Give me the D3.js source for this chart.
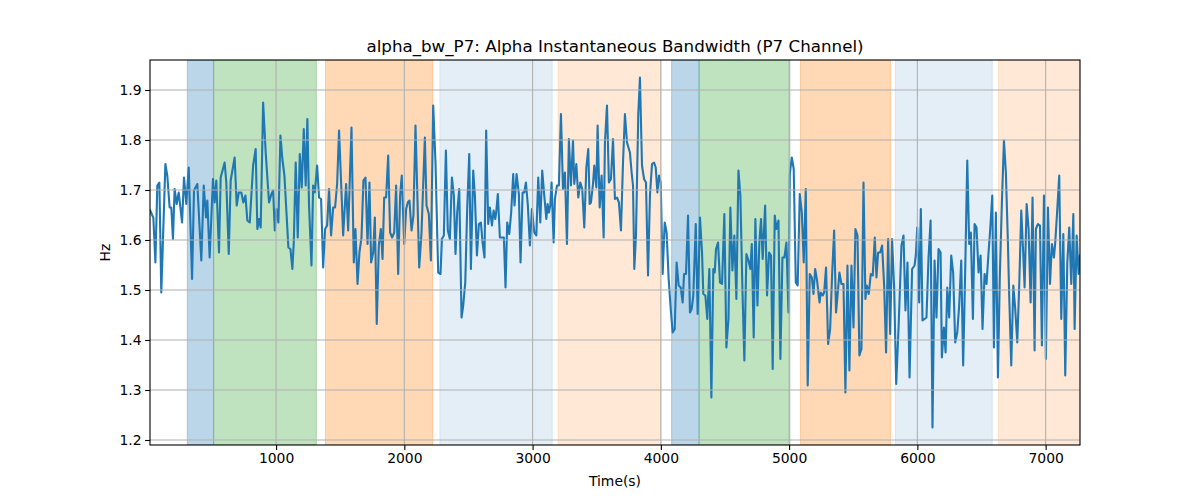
<!DOCTYPE html>
<html><head><meta charset="utf-8">
<script src="https://cdn.jsdelivr.net/npm/d3@7"></script>
<style>html,body{margin:0;padding:0;background:#fff;}svg{display:block;font-family:"DejaVu Sans",sans-serif;}</style>
</head><body>
<svg id="chart" width="1200" height="500"></svg>
<script>
const times = [
17,33,43,59,74,90,105,137,152,170,183,196,209,225,241,267,282,300,319,345,360,386,417,436,454,464,482,508,521,534,555,568,599,612,631,646,677,693,709,729,745,761,776,
795,821,841,854,867,880,899,919,945,964,977,990,1003,1018,1034,1049,1065,1081,1096,1112,1127,1138,1153,1169,1185,1200,1216,1231,1244,1257,1276,1289,1302,1320,1335,1351,1367,1382,1398,1413,1429,1445,1460,1476,1491,1512,1523,
1546,1562,1588,1606,1619,1635,1650,1666,1681,1697,1713,1728,1741,1757,1770,1785,1801,1817,1830,1843,1858,1874,1889,1905,1921,1936,1952,1967,1980,1999,2014,2027,2040,2056,2071,2087,2103,2116,2134,2160,2173,2191,2207,2225,2243,2264,
2282,2293,2308,2324,2339,2355,2371,2386,2399,2412,2428,2446,2459,2475,2490,2506,2519,2537,2550,2566,2581,2597,2610,2625,2638,2654,2667,2683,2696,2709,2716,2729,2745,2761,2776,2789,2802,2818,2833,2849,2859,2875,2893,2906,2922,2935,2948,2963,2979,2995,
3013,3029,3044,3060,3075,3091,3107,3117,3127,3138,3148,3164,3174,3190,3205,3221,3237,3252,3268,3283,3299,3315,3325,3341,3356,3372,3387,3403,3419,3434,3445,3455,3471,3481,3497,3507,3523,3538,3554,3564,3580,3595,3611,3627,3642,3658,3673,3689,3705,3720,3736,
3759,3772,3783,3793,3806,3824,3837,3853,3869,3884,3900,3915,3931,3947,3960,3973,3986,3999,4014,4030,4045,4061,4077,4092,4108,4123,4139,4155,4170,4181,4196,4212,4227,4240,4253,4272,4287,4305,4321,4331,4347,4362,4378,4394,4409,4420,4430,4446,4461,4477,
4495,4511,4527,4542,4558,4573,4589,4605,4620,4636,4651,4667,4683,4698,4709,4724,4737,4753,4768,4781,4794,4813,4828,4844,4859,4872,4888,4901,4917,4932,4948,4963,4979,4995,5005,5021,5036,5052,5067,5083,5099,5114,5130,5145,5161,5177,5190,5203,5218,
5237,5247,5262,5273,5288,5304,5320,5335,5351,5366,5382,5392,5408,5424,5439,5455,5470,5486,5502,5517,5533,5548,5564,5580,5595,5606,5621,5637,5652,5668,5681,5694,5710,5725,5741,5756,5772,5788,5803,5819,5835,5855,5876,5892,5907,5923,5939,5959,
5978,5988,5999,6014,6027,6040,6056,6071,6087,6103,6118,6134,6149,6165,6181,6191,6207,6220,6233,6248,6264,6279,6295,6311,6326,6342,6357,6373,6389,6404,6417,6433,6446,6461,6477,6493,6508,6524,6539,6555,6568,6584,6597,6612,6628,6643,6659,6675,6690,6706,
6716,6732,6748,6763,6779,6794,6810,6826,6836,6852,6867,6883,6898,6914,6924,6940,6956,6971,6987,7002,7018,7034,7049,7065,7075,7091,7106,7122,7138,7153,7169,7184,7200,7216,7226,7242,7257,7268
];
const values = [
1.66,1.65,1.645,1.555,1.709,1.715,1.495,1.752,1.728,1.665,1.665,1.602,1.702,1.672,1.695,1.635,1.725,1.672,1.745,1.522,1.699,1.712,1.559,1.709,1.645,1.679,1.565,1.722,1.675,1.719,1.575,1.725,1.755,1.715,1.572,1.719,1.765,1.669,1.695,1.695,1.675,1.689,1.639,
1.635,1.749,1.782,1.622,1.642,1.625,1.875,1.775,1.675,1.692,1.699,1.619,1.662,1.635,1.809,1.762,1.729,1.655,1.585,1.582,1.542,1.595,1.755,1.605,1.772,1.705,1.822,1.709,1.842,1.669,1.549,1.709,1.695,1.749,1.685,1.682,1.545,1.622,1.629,1.702,1.609,1.665,1.665,1.712,1.819,1.682,1.609,
1.712,1.619,1.825,1.555,1.622,1.512,1.575,1.605,1.719,1.725,1.592,1.715,1.555,1.575,1.645,1.432,1.589,1.622,1.562,1.685,1.685,1.769,1.615,1.605,1.615,1.709,1.532,1.689,1.729,1.592,1.662,1.675,1.679,1.619,1.649,1.829,1.675,1.545,1.615,1.805,1.669,1.652,1.559,1.869,1.755,1.535,
1.532,1.602,1.609,1.779,1.619,1.602,1.725,1.689,1.572,1.655,1.702,1.445,1.469,1.515,1.662,1.772,1.542,1.739,1.689,1.569,1.632,1.635,1.595,1.565,1.819,1.632,1.665,1.629,1.659,1.642,1.655,1.692,1.605,1.605,1.605,1.505,1.635,1.612,1.655,1.732,1.669,1.732,1.692,1.555,1.695,1.695,1.715,1.669,1.589,1.662,
1.615,1.609,1.725,1.635,1.739,1.689,1.642,1.672,1.655,1.669,1.715,1.595,1.682,1.709,1.709,1.852,1.702,1.735,1.592,1.802,1.709,1.799,1.712,1.752,1.685,1.715,1.702,1.625,1.745,1.782,1.672,1.675,1.712,1.749,1.705,1.829,1.665,1.729,1.605,1.795,1.869,1.715,1.722,1.802,1.682,1.685,1.675,1.619,1.755,1.852,1.795,
1.775,1.735,1.709,1.542,1.609,1.852,1.925,1.749,1.722,1.715,1.529,1.689,1.752,1.755,1.745,1.695,1.729,1.715,1.532,1.635,1.615,1.522,1.462,1.415,1.422,1.555,1.509,1.505,1.475,1.532,1.532,1.649,1.455,1.462,1.489,1.632,1.452,1.645,1.575,1.492,1.489,1.442,1.542,1.285,1.542,1.535,1.582,1.595,1.515,1.512,
1.652,1.385,1.442,1.665,1.539,1.609,1.482,1.739,1.689,1.502,1.359,1.572,1.559,1.542,1.592,1.405,1.642,1.469,1.595,1.642,1.562,1.669,1.489,1.575,1.569,1.342,1.649,1.622,1.639,1.362,1.565,1.565,1.595,1.455,1.732,1.765,1.742,1.515,1.509,1.692,1.655,1.555,1.702,1.309,1.532,1.525,1.492,1.542,1.519,
1.475,1.495,1.489,1.495,1.545,1.392,1.422,1.529,1.619,1.455,1.502,1.535,1.512,1.512,1.295,1.549,1.339,1.549,1.425,1.622,1.609,1.369,1.382,1.715,1.482,1.509,1.492,1.532,1.529,1.605,1.525,1.575,1.575,1.589,1.509,1.375,1.602,1.412,1.602,1.502,1.312,1.435,1.589,1.609,1.459,1.555,1.325,1.542,
1.549,1.569,1.625,1.475,1.662,1.439,1.442,1.445,1.565,1.639,1.225,1.559,1.445,1.582,1.575,1.365,1.425,1.375,1.505,1.445,1.569,1.535,1.395,1.415,1.469,1.559,1.349,1.539,1.759,1.592,1.615,1.442,1.632,1.625,1.535,1.569,1.422,1.532,1.512,1.575,1.622,1.689,1.385,1.655,1.325,1.529,1.675,1.799,1.735,1.595,
1.489,1.349,1.509,1.462,1.395,1.509,1.659,1.569,1.505,1.672,1.622,1.475,1.685,1.379,1.622,1.632,1.629,1.389,1.689,1.362,1.665,1.512,1.592,1.565,1.595,1.662,1.729,1.442,1.612,1.329,1.555,1.625,1.512,1.652,1.422,1.609,1.532,1.569
];
const spanStarts = [308, 513, 1385, 2277, 3200, 4084, 4298, 5088, 5829, 6633];
const spanEnds   = [513, 1314, 2222, 3153, 4001, 4298, 5007, 5790, 6584, 7268];
const spanKinds  = ["blue","green","orange","lightblue","peach","blue","green","orange","lightblue","peach"];
const xTicks = [1000, 2000, 3000, 4000, 5000, 6000, 7000];
const yTicks = [1.2, 1.3, 1.4, 1.5, 1.6, 1.7, 1.8, 1.9];
const yDomain = [1.19, 1.96];

const spanStyle = {
  blue:      {color: "#1f77b4", alpha: 0.3},
  green:     {color: "#2ca02c", alpha: 0.3},
  orange:    {color: "#ff7f0e", alpha: 0.3},
  lightblue: {color: "#1f77b4", alpha: 0.12},
  peach:     {color: "#ff7f0e", alpha: 0.17}
};

const W = 1200, H = 500;
const m = {left: 150, right: 1080, top: 60, bottom: 445};
const svg = d3.select("#chart");

const n = Math.min(times.length, values.length);
const data = d3.range(n).map(i => ({t: times[i], v: values[i]}));

const x = d3.scaleLinear().domain(d3.extent(data, d => d.t)).range([m.left, m.right]);
const y = d3.scaleLinear().domain(yDomain).range([m.bottom, m.top]);

svg.append("defs").append("clipPath").attr("id", "clip")
  .append("rect").attr("x", m.left).attr("y", m.top)
  .attr("width", m.right - m.left).attr("height", m.bottom - m.top);

const plot = svg.append("g").attr("clip-path", "url(#clip)");

// spans
plot.selectAll("rect.span").data(spanStarts.map((s, i) => ({s, e: spanEnds[i], k: spanKinds[i]})))
  .enter().append("rect")
  .attr("x", d => x(d.s)).attr("width", d => x(d.e) - x(d.s))
  .attr("y", m.top).attr("height", m.bottom - m.top)
  .attr("fill", d => spanStyle[d.k].color).attr("fill-opacity", d => spanStyle[d.k].alpha)
  .attr("stroke", d => spanStyle[d.k].color).attr("stroke-opacity", d => spanStyle[d.k].alpha)
  .attr("stroke-width", 1);

// grid
const grid = svg.append("g");
grid.selectAll("line.gx").data(xTicks).enter().append("line")
  .attr("x1", d => x(d)).attr("x2", d => x(d)).attr("y1", m.top).attr("y2", m.bottom)
  .attr("stroke", "#b0b0b0").attr("stroke-width", 1.1);
grid.selectAll("line.gy").data(yTicks).enter().append("line")
  .attr("x1", m.left).attr("x2", m.right).attr("y1", d => y(d)).attr("y2", d => y(d))
  .attr("stroke", "#b0b0b0").attr("stroke-width", 1.1);

// line
const line = d3.line().x(d => x(d.t)).y(d => y(d.v));
plot.append("path").datum(data).attr("d", line)
  .attr("fill", "none").attr("stroke", "#1f77b4").attr("stroke-width", 2.1)
  .attr("stroke-linejoin", "round").attr("stroke-linecap", "square");

// axes
const xAxis = d3.axisBottom(x).tickValues(xTicks).tickFormat(d3.format("d")).tickSizeOuter(0).tickSize(4.9).tickPadding(3.5);
const gx = svg.append("g").attr("transform", `translate(0,${m.bottom})`).call(xAxis);
gx.select(".domain").remove();
gx.selectAll("line").attr("stroke", "#000").attr("stroke-width", 1.1);
gx.selectAll("text").attr("font-family", "DejaVu Sans").attr("font-size", 13.9).attr("fill", "#000");

const yAxis = d3.axisLeft(y).tickValues(yTicks).tickFormat(d3.format(".1f")).tickSizeOuter(0).tickSize(4.9).tickPadding(3.5);
const gy = svg.append("g").attr("transform", `translate(${m.left},0)`).call(yAxis);
gy.select(".domain").remove();
gy.selectAll("line").attr("stroke", "#000").attr("stroke-width", 1.1);
gy.selectAll("text").attr("font-family", "DejaVu Sans").attr("font-size", 13.9).attr("fill", "#000");

// spines
svg.append("rect").attr("x", m.left).attr("y", m.top)
  .attr("width", m.right - m.left).attr("height", m.bottom - m.top)
  .attr("fill", "none").attr("stroke", "#000").attr("stroke-width", 1.1);

// labels
svg.append("text").attr("x", (m.left + m.right) / 2).attr("y", 52)
  .attr("text-anchor", "middle").attr("font-size", 16.7).attr("fill", "#000")
  .text("alpha_bw_P7: Alpha Instantaneous Bandwidth (P7 Channel)");
svg.append("text").attr("x", (m.left + m.right) / 2).attr("y", 486)
  .attr("text-anchor", "middle").attr("font-size", 13.9).attr("fill", "#000")
  .text("Time(s)");
svg.append("text").attr("transform", `translate(110,${(m.top + m.bottom) / 2}) rotate(-90)`)
  .attr("text-anchor", "middle").attr("font-size", 13.9).attr("fill", "#000")
  .text("Hz");
</script>
</body></html>
